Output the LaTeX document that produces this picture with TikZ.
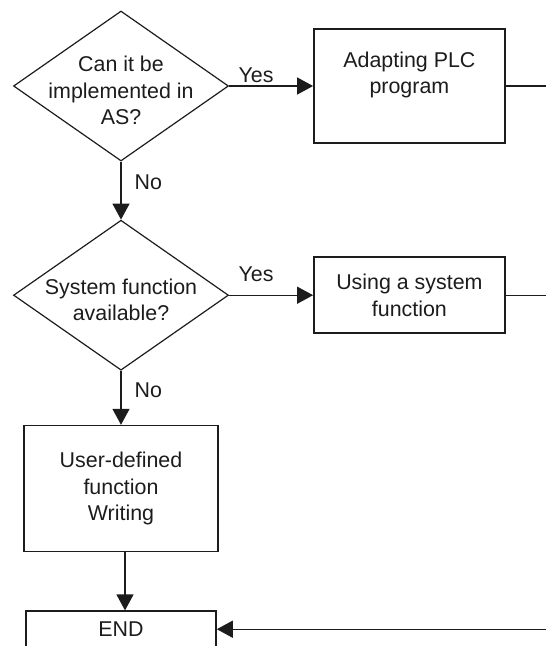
\documentclass[tikz,border=0pt]{standalone}
\usepackage{fontspec}
\setmainfont{Liberation Sans}
\usetikzlibrary{positioning,shapes.geometric,arrows.meta}

\definecolor{inkgray}{HTML}{1C1C1C}
\newcommand{\dtext}[1]{\smash{\raisebox{-12pt}{\makebox[0pt]{\begin{tabular}{@{}c@{}}#1\end{tabular}}}}}

\begin{document}
\begin{tikzpicture}[
    x=1pt, y=-1pt,
    node distance=58pt,
    every node/.style={font=\fontsize{21.4}{26.5}\selectfont, text=inkgray},
    decision/.style={diamond, draw=inkgray, line width=1.2pt, inner sep=0pt,
      minimum width=215pt, minimum height=150pt},
    process/.style={rectangle, draw=inkgray, line width=1.6pt, align=center,
      inner sep=0pt, minimum width=191pt},
    flow/.style={-{Triangle[length=16pt,width=17pt]}, line width=1.4pt, draw=inkgray},
    branch/.style={inner sep=0pt}
  ]
  \clip (0,0) rectangle (546,646);

  \node[decision] (canas) at (121,86) {\dtext{Can it be\\implemented in\\AS?}};
  \node[process, right=84pt of canas, minimum height=114pt] (adapt)
    {Adapting PLC\\program\\\mbox{}};
  \node[decision, below=of canas] (sysfn) {\dtext{System function\\available?}};
  \node[process, right=84pt of sysfn, minimum height=76pt] (usesys)
    {Using a system\\function};
  \node[process, below=54pt of sysfn, minimum width=194pt, minimum height=126pt] (userfn)
    {User-defined\\function\\Writing};
  \node[process, below=of userfn, minimum width=190pt, minimum height=36pt] (finish) {END};
  \coordinate (rim) at (546,0);

  \draw[flow] (canas.east) -- node[branch, pos=0.32, above=3pt] {Yes} (adapt.west);
  \draw[flow] (canas.south) -- node[branch, pos=0.36, right=13pt] {No} (sysfn.north);
  \draw[flow] (sysfn.east) -- node[branch, pos=0.32, above=13pt] {Yes} (usesys.west);
  \draw[flow] (sysfn.south) -- node[branch, pos=0.36, right=13pt] {No} (userfn.north);
  \draw[flow] ([xshift=4pt]userfn.south) -- ([xshift=4pt]finish.north);

  \draw[line width=1.4pt, draw=inkgray] (adapt.east) -- (adapt.east -| rim);
  \draw[line width=1.4pt, draw=inkgray] (usesys.east) -- (usesys.east -| rim);
  \draw[flow] (finish.east -| rim) -- (finish.east);

\end{tikzpicture}
\end{document}
